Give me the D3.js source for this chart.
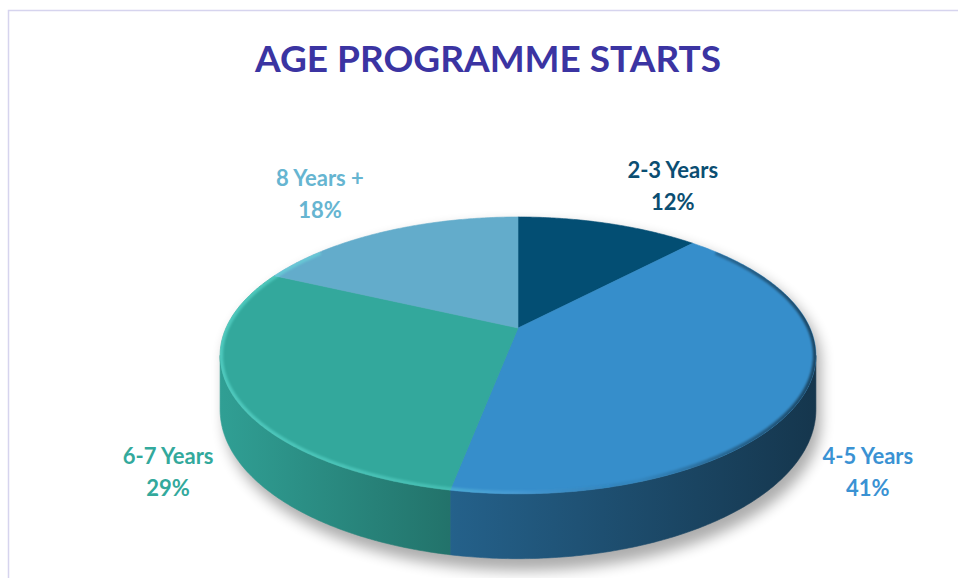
<!DOCTYPE html>
<html>
<head>
<meta charset="utf-8">
<script src="https://cdn.jsdelivr.net/npm/d3@7"></script>
<style>
  body { margin: 0; background: #fff; }
  text { font-family: Lato, "Noto Sans", sans-serif; font-weight: bold; }
</style>
</head>
<body>
<svg id="chart" width="958" height="578"></svg>
<script>
// chart data
const categories = ["2-3 Years", "4-5 Years", "6-7 Years", "8 Years +"];
const values = [12, 41, 29, 18];
const percentLabels = ["12%", "41%", "29%", "18%"];
const sliceColors = ["#034e73", "#368ecb", "#33a89c", "#63accb"];
const labelColors = ["#0b4e72", "#3a92d3", "#33a99c", "#66b5d1"];
const title = "AGE PROGRAMME STARTS";

const svg = d3.select("#chart");

// frame line (only top and left edges fall inside the window)
svg.append("rect")
  .attr("x", 8.5).attr("y", 10.5)
  .attr("width", 1200).attr("height", 1200)
  .attr("fill", "none")
  .attr("stroke", "#d6d4ee")
  .attr("stroke-width", 1.5);

svg.append("text")
  .attr("x", 488).attr("y", 72)
  .attr("text-anchor", "middle")
  .attr("font-size", 37)
  .attr("fill", "#3b34a2")
  .text(title);

// perspective pie geometry
const k = 0.198;          // perspective strength
const depth = 52;         // thickness of the disc
const xScale = d3.scaleLinear().domain([-1, 1]).range([518 - 292, 518 + 292]);
const yScale = d3.scaleLinear().domain([-1, 1]).range([328 + 133, 328 - 133]);

function proj(theta, drop) {
  const u = Math.cos(theta), s = Math.sin(theta);
  const w = 1 + k * u;
  return [xScale(s / w), yScale(u / w) + (drop || 0) / w];
}

function arcPoints(a0, a1, drop) {
  const n = Math.max(2, Math.ceil(Math.abs(a1 - a0) / 0.01));
  return d3.range(n + 1).map((i) => proj(a0 + (a1 - a0) * i / n, drop));
}

const line = d3.line();
const pie = d3.pie().sort(null).value((d) => d)(values);

// angles where the side wall turns out of view
const sideStart = Math.acos(-k);
const sideEnd = 2 * Math.PI - sideStart;

const defs = svg.append("defs");

defs.append("filter").attr("id", "shadow")
  .attr("x", "-20%").attr("y", "-20%").attr("width", "140%").attr("height", "140%")
  .append("feGaussianBlur").attr("stdDeviation", 7);

defs.append("filter").attr("id", "soft")
  .append("feGaussianBlur").attr("stdDeviation", 1.2);

pie.forEach((p, i) => {
  const c = d3.color(sliceColors[i]);
  const g = defs.append("linearGradient")
    .attr("id", "side" + i)
    .attr("gradientUnits", "userSpaceOnUse")
    .attr("x1", xScale(-1.02)).attr("x2", xScale(1.02))
    .attr("y1", 0).attr("y2", 0);
  g.append("stop").attr("offset", 0).attr("stop-color", c.darker(0.15));
  g.append("stop").attr("offset", 0.4).attr("stop-color", c.darker(1.1));
  g.append("stop").attr("offset", 1).attr("stop-color", c.darker(2.7));
});

const rimGrad = defs.append("linearGradient")
  .attr("id", "rim")
  .attr("gradientUnits", "userSpaceOnUse")
  .attr("x1", xScale(-1.02)).attr("x2", xScale(1.02))
  .attr("y1", 0).attr("y2", 0);
rimGrad.append("stop").attr("offset", 0).attr("stop-color", "#6ff0e4").attr("stop-opacity", 0.45);
rimGrad.append("stop").attr("offset", 0.38).attr("stop-color", "#6ff0e4").attr("stop-opacity", 0.3);
rimGrad.append("stop").attr("offset", 0.5).attr("stop-color", "#9fd8ff").attr("stop-opacity", 0.15);
rimGrad.append("stop").attr("offset", 0.7).attr("stop-color", "#000").attr("stop-opacity", 0.05);
rimGrad.append("stop").attr("offset", 1).attr("stop-color", "#000").attr("stop-opacity", 0.5);

const topOutline = arcPoints(0, 2 * Math.PI, 0);
defs.append("clipPath").attr("id", "topClip")
  .append("path").attr("d", line(topOutline) + "Z");

// soft shadow under the disc
const silhouette = arcPoints(sideEnd - 2 * Math.PI, sideStart, 0)
  .concat(arcPoints(sideStart, sideEnd, depth + 4));
svg.append("path")
  .attr("d", line(silhouette) + "Z")
  .attr("transform", "translate(5,7)")
  .attr("fill", "#000")
  .attr("opacity", 0.32)
  .attr("filter", "url(#shadow)");

// side walls
pie.forEach((p, i) => {
  const a = Math.max(p.startAngle, sideStart);
  const b = Math.min(p.endAngle, sideEnd);
  if (a >= b) return;
  const pts = arcPoints(a, b, 0).concat(arcPoints(b, a, depth));
  svg.append("path")
    .attr("d", line(pts) + "Z")
    .attr("fill", "url(#side" + i + ")")
    .attr("stroke", "url(#side" + i + ")")
    .attr("stroke-width", 0.6);
});

// top faces
pie.forEach((p, i) => {
  const pts = [[xScale(0), yScale(0)]]
    .concat(arcPoints(p.startAngle, p.endAngle, 0));
  svg.append("path")
    .attr("d", line(pts) + "Z")
    .attr("fill", sliceColors[i])
    .attr("stroke", sliceColors[i])
    .attr("stroke-width", 0.6);
});

// bevel rim on the top edge
svg.append("g").attr("clip-path", "url(#topClip)")
  .append("path")
  .attr("d", line(arcPoints(sideStart - 0.9, sideEnd + 0.9, 0)))
  .attr("fill", "none")
  .attr("stroke", "url(#rim)")
  .attr("stroke-width", 6)
  .attr("filter", "url(#soft)");

// data labels
pie.forEach((p, i) => {
  const mid = (p.startAngle + p.endAngle) / 2;
  const edge = proj(mid, 0);
  const lx = edge[0] + 64 * Math.sign(Math.sin(mid));
  const ly = Math.cos(mid) > 0 ? edge[1] - 30 : edge[1] + depth + 34;
  const t = svg.append("text")
    .attr("text-anchor", "middle")
    .attr("font-size", 22)
    .attr("fill", labelColors[i]);
  t.append("tspan").attr("x", lx).attr("y", ly - 16).text(categories[i]);
  t.append("tspan").attr("x", lx).attr("y", ly + 16).text(percentLabels[i]);
});
</script>
</body>
</html>
